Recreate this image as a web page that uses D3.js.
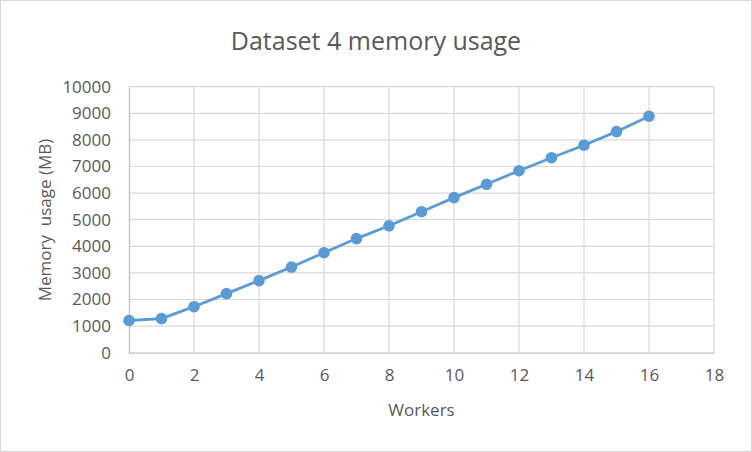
<!DOCTYPE html>
<html>
<head>
<meta charset="utf-8">
<script src="https://cdn.jsdelivr.net/npm/d3@7"></script>
<style>
  body { margin: 0; background: #fff; }
  text { font-family: "Open Sans", sans-serif; fill: #595959; }
</style>
</head>
<body>
<svg id="chart" width="752" height="452"></svg>
<script>
// values
var workers = [0, 1, 2, 3, 4, 5, 6, 7, 8, 9, 10, 11, 12, 13, 14, 15, 16];
var memoryMB = [1210, 1280, 1730, 2220, 2710, 3220, 3760, 4290, 4770, 5300, 5830, 6330, 6840, 7330, 7800, 8310, 8890];
var xTicks = [0, 2, 4, 6, 8, 10, 12, 14, 16, 18];
var yTicks = [0, 1000, 2000, 3000, 4000, 5000, 6000, 7000, 8000, 9000, 10000];

var svg = d3.select("#chart");
var W = 752, H = 452;

// outer chart border
svg.append("rect")
    .attr("x", 0.5).attr("y", 0.5)
    .attr("width", W - 1).attr("height", H - 1)
    .attr("fill", "#fff")
    .attr("stroke", "#d9d9d9");

var x = d3.scaleLinear().domain([0, 18]).range([129, 714]);
var y = d3.scaleLinear().domain([0, 10000]).range([352.7, 86.7]);

// horizontal grid
svg.append("g")
  .selectAll("line")
  .data(yTicks.filter(function (d) { return d > 0; }))
  .enter().append("line")
    .attr("x1", x(0)).attr("x2", x(18))
    .attr("y1", function (d) { return y(d); })
    .attr("y2", function (d) { return y(d); })
    .attr("stroke", "#d9d9d9").attr("stroke-width", 1.2);

// vertical grid
svg.append("g")
  .selectAll("line")
  .data(xTicks.filter(function (d) { return d > 0; }))
  .enter().append("line")
    .attr("x1", function (d) { return x(d); })
    .attr("x2", function (d) { return x(d); })
    .attr("y1", y(0)).attr("y2", y(10000))
    .attr("stroke", "#d9d9d9").attr("stroke-width", 1.2);

// axes
var xAxis = svg.append("g")
    .attr("transform", "translate(0," + y(0) + ")")
    .call(d3.axisBottom(x).tickValues(xTicks).tickSize(0).tickPadding(16));
var yAxis = svg.append("g")
    .attr("transform", "translate(" + x(0) + ",0)")
    .call(d3.axisLeft(y).tickValues(yTicks).tickSize(0).tickPadding(18).tickFormat(d3.format("d")));

[xAxis, yAxis].forEach(function (a) {
  a.select(".domain").attr("stroke", "#bfbfbf").attr("stroke-width", 1.3);
  a.selectAll("text")
    .style("font-family", "'Open Sans', sans-serif")
    .style("font-size", "17px")
    .attr("fill", "#595959");
});

// series line
var line = d3.line()
    .x(function (d, i) { return x(workers[i]); })
    .y(function (d) { return y(d); });

svg.append("path")
    .datum(memoryMB)
    .attr("fill", "none")
    .attr("stroke", "#5b9bd5")
    .attr("stroke-width", 2.8)
    .attr("stroke-linejoin", "round")
    .attr("d", line);

svg.append("g")
  .selectAll("circle")
  .data(memoryMB)
  .enter().append("circle")
    .attr("cx", function (d, i) { return x(workers[i]); })
    .attr("cy", function (d) { return y(d); })
    .attr("r", 5.8)
    .attr("fill", "#5b9bd5");

// title
svg.append("text")
    .attr("x", 376).attr("y", 50)
    .attr("text-anchor", "middle")
    .style("font-size", "25px")
    .text("Dataset 4 memory usage");

// axis titles
svg.append("text")
    .attr("x", x(9)).attr("y", 416)
    .attr("text-anchor", "middle")
    .style("font-size", "17px")
    .text("Workers");

svg.append("text")
    .attr("transform", "translate(51,220)rotate(-90)")
    .attr("text-anchor", "middle")
    .style("font-size", "17px")
    .style("white-space", "pre")
    .text("Memory  usage (MB)");
</script>
</body>
</html>
